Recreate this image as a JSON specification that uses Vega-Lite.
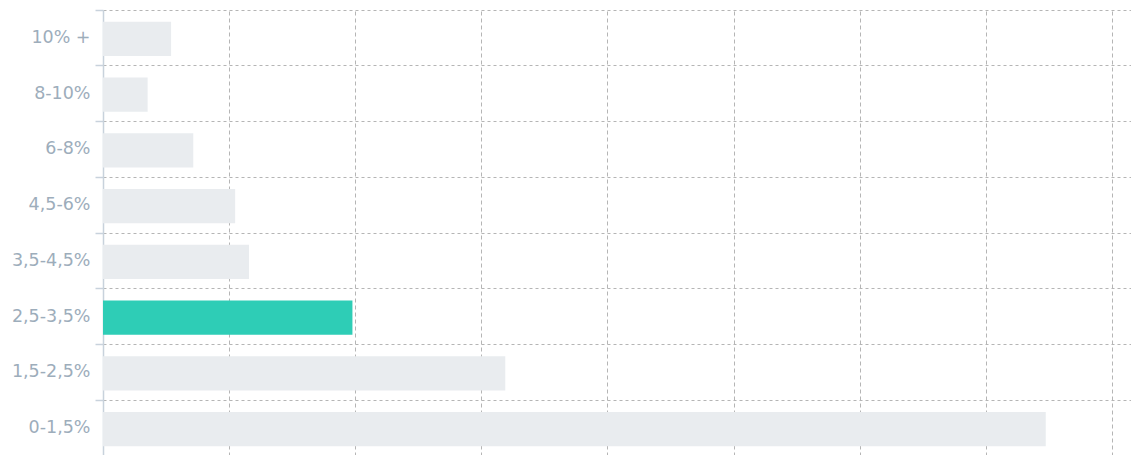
{
  "$schema": "https://vega.github.io/schema/vega-lite/v6.json",
  "width": 1028,
  "height": 446,
  "autosize": {"type": "none"},
  "padding": {"left": 103, "top": 10, "right": 0, "bottom": 0},
  "background": "#ffffff",
  "config": {"view": {"stroke": null}},
  "data": {
    "values": [
      {"range": "10% +", "value": 2.70, "group": "other"},
      {"range": "8-10%", "value": 1.77, "group": "other"},
      {"range": "6-8%", "value": 3.58, "group": "other"},
      {"range": "4,5-6%", "value": 5.24, "group": "other"},
      {"range": "3,5-4,5%", "value": 5.79, "group": "other"},
      {"range": "2,5-3,5%", "value": 9.89, "group": "selected"},
      {"range": "1,5-2,5%", "value": 15.95, "group": "other"},
      {"range": "0-1,5%", "value": 37.38, "group": "other"}
    ]
  },
  "mark": {"type": "bar", "height": {"band": 0.61}, "yOffset": 1},
  "encoding": {
    "y": {
      "field": "range",
      "type": "nominal",
      "sort": ["10% +", "8-10%", "6-8%", "4,5-6%", "3,5-4,5%", "2,5-3,5%", "1,5-2,5%", "0-1,5%"],
      "scale": {"paddingInner": 0, "paddingOuter": 0},
      "axis": {
        "title": null,
        "bandPosition": 0,
        "grid": true,
        "gridColor": "#b5b5b5",
        "gridDash": [3, 3],
        "gridWidth": 1,
        "domainColor": "#c8d2dc",
        "domainWidth": 1.5,
        "tickColor": "#c8d2dc",
        "tickWidth": 1.5,
        "tickSize": 8,
        "labelColor": "#9dadbb",
        "labelFont": "DejaVu Sans",
        "labelFontSize": 17.5,
        "labelPadding": 5,
        "labelOffset": 0
      }
    },
    "x": {
      "field": "value",
      "type": "quantitative",
      "scale": {"domain": [0, 40.76], "nice": false, "zero": true},
      "axis": {
        "title": null,
        "labels": false,
        "ticks": false,
        "domain": false,
        "values": [5, 10, 15, 20, 25, 30, 35, 40],
        "grid": true,
        "gridColor": "#b5b5b5",
        "gridDash": [4, 3],
        "gridWidth": 1
      }
    },
    "color": {
      "field": "group",
      "type": "nominal",
      "scale": {"domain": ["other", "selected"], "range": ["#e9ecef", "#2ecdb6"]},
      "legend": null
    }
  }
}
